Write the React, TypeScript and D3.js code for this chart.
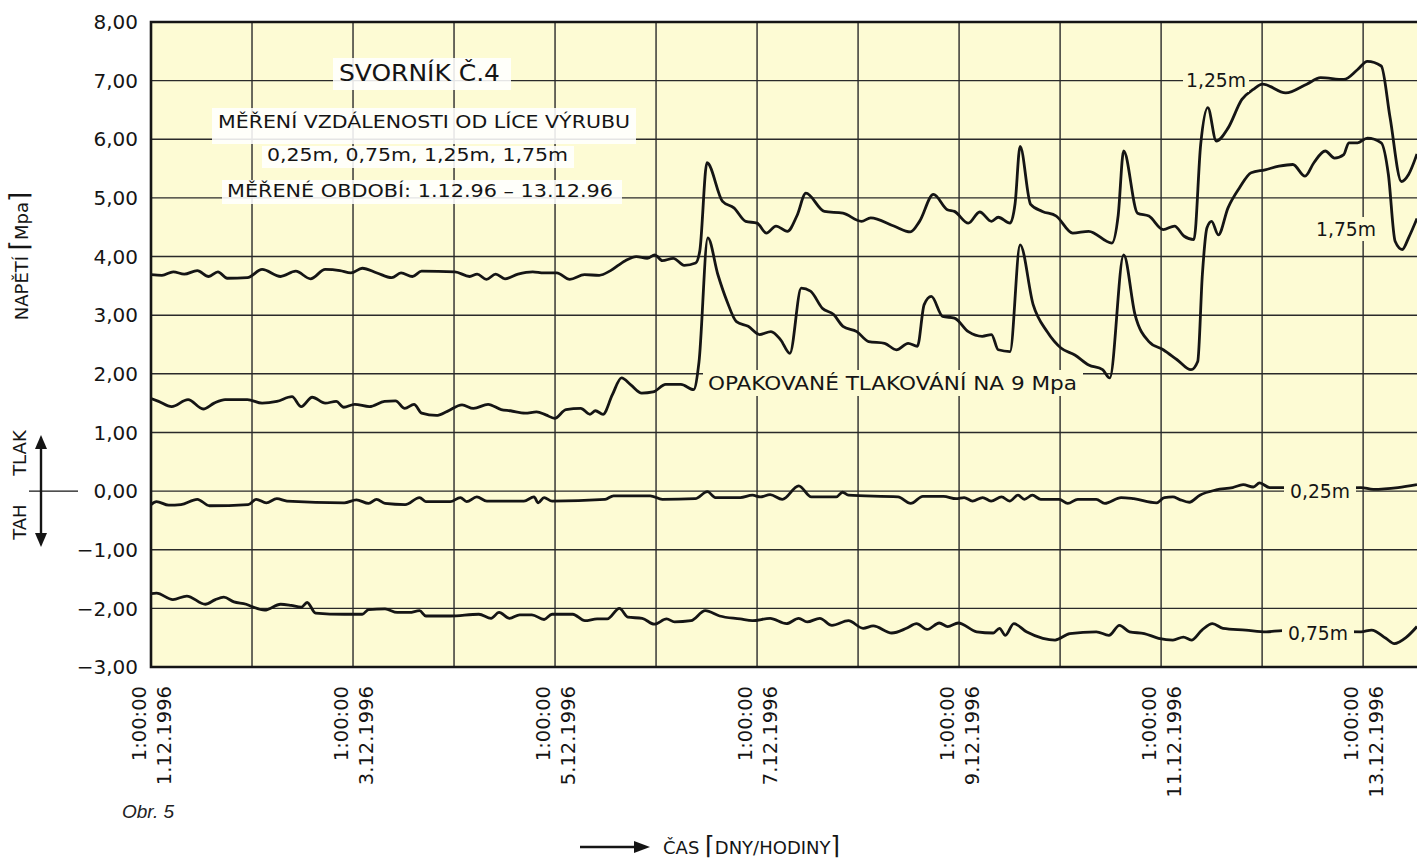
import React, { useEffect, useRef } from "react"
import * as d3 from "d3"

// time = hours after 1.12.1996 1:00:00, value = napětí [Mpa]
const series025: [number, number][] = [
  [0, -0.23], [1.3, -0.18], [4.2, -0.24], [7.1, -0.23], [11, -0.14], [13.9, -0.25],
  [23.1, -0.23], [25, -0.14], [27.4, -0.2], [29.9, -0.13], [32.3, -0.17], [45.9, -0.2],
  [48.8, -0.15], [51.7, -0.21], [53.6, -0.14], [55.6, -0.21], [60.4, -0.23], [63.8, -0.11],
  [65.3, -0.18], [71.1, -0.18], [73.5, -0.11], [75, -0.18], [77.4, -0.1], [79.8, -0.17],
  [88.6, -0.17], [91, -0.1], [92, -0.2], [93.4, -0.11], [95.3, -0.17], [107.9, -0.14],
  [109.9, -0.08], [118.6, -0.08], [121.5, -0.14], [129.3, -0.13], [132.2, -0.01], [134.1, -0.11],
  [140, -0.11], [142.9, -0.07], [144.8, -0.1], [147.1, -0.06], [150, -0.14], [153.9, 0.09],
  [156.9, -0.1], [162.8, -0.1], [164.3, -0.02], [165.7, -0.07], [177.5, -0.1], [180.5, -0.21],
  [183.4, -0.09], [188.3, -0.09], [191.3, -0.13], [193.2, -0.11], [195.2, -0.17], [197.6, -0.11],
  [199.6, -0.17], [202.1, -0.1], [204, -0.17], [206, -0.07], [207.5, -0.14], [209.4, -0.07],
  [211.4, -0.14], [215.8, -0.14], [217.8, -0.21], [220.2, -0.14], [224.6, -0.14], [226.6, -0.21],
  [230.5, -0.11], [233.5, -0.13], [238.9, -0.2], [240.8, -0.11], [242.8, -0.1], [244.3, -0.14],
  [246.7, -0.19], [249.2, -0.07], [253.1, 0.02], [257, 0.06], [259.5, 0.11], [261.9, 0.07],
  [263.4, 0.14], [265.8, 0.06], [268.8, 0.06], [277.8, 0.05], [287.5, 0.06], [290.4, 0.03],
  [296.3, 0.06], [300.8, 0.11]
]

const series075: [number, number][] = [
  [0, -1.75], [1.3, -1.74], [5.2, -1.85], [8.5, -1.79], [12.9, -1.93], [15.3, -1.85],
  [17.3, -1.81], [19.7, -1.89], [22.6, -1.93], [24, -1.97], [27, -2.03], [30.8, -1.93],
  [33.3, -1.95], [35.7, -1.98], [37.1, -1.9], [39.1, -2.08], [45.9, -2.1], [50.2, -2.1],
  [51.7, -2.02], [55.6, -2.01], [58.5, -2.07], [61.4, -2.07], [63.8, -2.04], [65.3, -2.13],
  [71.1, -2.13], [77.9, -2.1], [80.8, -2.17], [82.7, -2.07], [85.2, -2.17], [87.6, -2.11],
  [90.5, -2.11], [93.4, -2.19], [95.3, -2.1], [100.2, -2.1], [103.1, -2.21], [106, -2.18],
  [108.4, -2.18], [111.3, -2.0], [113.3, -2.15], [116.7, -2.17], [119.6, -2.27], [122.5, -2.18],
  [124.4, -2.23], [128.3, -2.21], [131.7, -2.04], [135.1, -2.13], [140, -2.18], [142.9, -2.21],
  [147.1, -2.17], [151, -2.26], [153.9, -2.17], [155.9, -2.23], [158.9, -2.17], [161.8, -2.29],
  [165.7, -2.21], [169.2, -2.34], [171.6, -2.3], [176, -2.42], [179.5, -2.34], [181.9, -2.26],
  [184.4, -2.36], [187.3, -2.25], [189.3, -2.31], [191.8, -2.25], [196.2, -2.4], [200.1, -2.42],
  [201.6, -2.34], [203, -2.46], [205, -2.26], [208, -2.4], [211.9, -2.51], [214.8, -2.54],
  [218.3, -2.43], [224.6, -2.4], [227.6, -2.46], [230.1, -2.29], [232.5, -2.4], [236, -2.43],
  [239.4, -2.51], [242.8, -2.54], [245.3, -2.49], [247.2, -2.54], [249.7, -2.37], [252.2, -2.26],
  [254.7, -2.34], [260.1, -2.37], [265, -2.4], [268.8, -2.38], [277.8, -2.39], [287.5, -2.4],
  [290, -2.37], [293.4, -2.51], [295.4, -2.6], [298.3, -2.49], [300.8, -2.31]
]

const series125: [number, number][] = [
  [0, 3.69], [2.6, 3.68], [5.3, 3.74], [7.9, 3.7], [11, 3.76], [13.7, 3.66], [15.9, 3.74],
  [18.1, 3.63], [22.9, 3.64], [26.4, 3.78], [30.8, 3.66], [34.4, 3.75], [37.9, 3.62], [41.4, 3.78],
  [44.9, 3.76], [47.5, 3.72], [50.2, 3.8], [53.7, 3.72], [57.2, 3.64], [59.4, 3.72], [62.1, 3.66],
  [64.3, 3.75], [72.2, 3.74], [75.7, 3.66], [77.5, 3.7], [79.7, 3.61], [81.9, 3.7], [84.1, 3.62],
  [87.2, 3.7], [90.7, 3.74], [93.3, 3.72], [96.4, 3.72], [99.5, 3.61], [103, 3.69], [106.5, 3.68],
  [109.2, 3.76], [112.7, 3.93], [115.3, 4.0], [117.9, 3.97], [119.7, 4.03], [121.5, 3.93],
  [124.1, 3.97], [126.7, 3.85], [129.4, 3.89], [130.4, 4.1], [132.1, 5.6], [135.8, 4.94],
  [138.5, 4.83], [141.3, 4.6], [144, 4.57], [146.2, 4.4], [148.5, 4.52], [151.2, 4.43],
  [153.5, 4.7], [155.6, 5.08], [160, 4.77], [164.4, 4.74], [168.8, 4.6], [171, 4.66],
  [176.5, 4.52], [180.4, 4.42], [182.6, 4.6], [185.9, 5.06], [189.2, 4.8], [190.9, 4.77],
  [194.2, 4.57], [196.9, 4.76], [199.7, 4.6], [201.3, 4.67], [204.1, 4.57], [205.3, 4.9],
  [206.5, 5.88], [209, 4.89], [211.8, 4.77], [215.1, 4.69], [219, 4.4], [222.8, 4.43],
  [228.3, 4.23], [229.8, 4.7], [231.1, 5.8], [234.4, 4.74], [237.1, 4.69], [240.5, 4.46],
  [243.2, 4.52], [245.4, 4.35], [247.8, 4.29], [249.4, 5.91], [251.1, 6.54], [253.1, 5.97],
  [255.9, 6.19], [259.2, 6.68], [261.9, 6.85], [264.1, 6.94], [269.6, 6.79], [274.6, 6.94],
  [277.9, 7.05], [283.4, 7.02], [286.7, 7.19], [289, 7.33], [292.3, 7.25], [294.4, 6.37],
  [297.1, 5.28], [298.8, 5.4], [300.8, 5.75]
]

const series175: [number, number][] = [
  [0, 1.58], [1.8, 1.53], [4.9, 1.44], [8.8, 1.56], [12.4, 1.4], [15, 1.5], [17.6, 1.56],
  [22.9, 1.56], [26.4, 1.5], [29.9, 1.53], [33.5, 1.61], [35.7, 1.44], [38.3, 1.6], [41.4, 1.5],
  [44, 1.53], [45.8, 1.43], [48.4, 1.48], [51.9, 1.44], [55.5, 1.53], [58.1, 1.54], [60.3, 1.41],
  [62.5, 1.48], [64.3, 1.33], [67.8, 1.29], [70.4, 1.36], [73.9, 1.47], [76.6, 1.41], [80.1, 1.48],
  [83.2, 1.39], [85.4, 1.37], [88.9, 1.33], [91.6, 1.35], [93.8, 1.3], [95.9, 1.24], [98.6, 1.39],
  [102.1, 1.41], [104.3, 1.31], [105.6, 1.37], [107.4, 1.31], [109.6, 1.64], [111.8, 1.93],
  [114, 1.81], [116.6, 1.67], [119.3, 1.69], [122.3, 1.82], [125.9, 1.82], [128.9, 1.73],
  [130.2, 2.2], [132.3, 4.32], [134.7, 3.69], [136.9, 3.23], [139.1, 2.89], [141.9, 2.81],
  [144.6, 2.67], [147.3, 2.72], [149.6, 2.58], [151.8, 2.35], [154.5, 3.46], [156.7, 3.41],
  [159.5, 3.12], [162.2, 3.01], [164.4, 2.81], [167.7, 2.72], [170.5, 2.55], [174.3, 2.52],
  [177.1, 2.41], [179.9, 2.52], [182.1, 2.47], [183.7, 3.18], [185.4, 3.32], [188.1, 2.98],
  [190.9, 2.95], [194.2, 2.72], [197.5, 2.64], [199.7, 2.67], [201.3, 2.41], [204.1, 2.38],
  [206.5, 4.2], [209.6, 3.18], [212.9, 2.72], [216.2, 2.44], [219.5, 2.32], [222.8, 2.15],
  [226.1, 2.07], [227.8, 1.93], [231.1, 4.03], [233.8, 3.01], [237.1, 2.55], [240.5, 2.41],
  [243.8, 2.24], [247.1, 2.07], [248.7, 2.21], [249.8, 3.69], [250.9, 4.49], [252, 4.6],
  [253.6, 4.37], [255.9, 4.83], [258.6, 5.17], [261.4, 5.43], [264.7, 5.48], [268, 5.54],
  [271.3, 5.57], [274.2, 5.37], [276.3, 5.6], [279, 5.8], [281.2, 5.68], [283.4, 5.74],
  [284.6, 5.94], [286.7, 5.94], [289, 6.02], [292.3, 5.94], [294, 5.4], [295.6, 4.26],
  [297.3, 4.12], [298.8, 4.32], [300.8, 4.65]
]

const yTicks = [8, 7, 6, 5, 4, 3, 2, 1, 0, -1, -2, -3]
const gridDays = [1, 2, 3, 4, 5, 6, 7, 8, 9, 10, 11, 12, 13]
const labelDays = [1, 3, 5, 7, 9, 11, 13]
const infoLines = [
  "MĚŘENÍ VZDÁLENOSTI OD LÍCE VÝRUBU",
  "0,25m, 0,75m, 1,25m, 1,75m",
  "MĚŘENÉ OBDOBÍ: 1.12.96 – 13.12.96"
]

const width = 1417
const height = 860
const plot = { left: 151, right: 1417, top: 22, bottom: 667 }
const paper = "#fdfbd4"
const ink = "#151515"
const font = "DejaVu Sans"

const start = new Date(1996, 11, 1, 1, 0, 0)
const atHour = (h: number) => new Date(start.getTime() + h * 3600 * 1000)

export default function App() {
  const ref = useRef(null)

  useEffect(() => {
    const svg = d3.select(ref.current)
    svg.selectAll("*").remove()

    const x = d3
      .scaleTime()
      .domain([start, atHour(300.8)])
      .range([plot.left, plot.right])
    const y = d3.scaleLinear().domain([-3, 8]).range([plot.bottom, plot.top])

    svg
      .append("rect")
      .attr("x", plot.left)
      .attr("y", plot.top)
      .attr("width", plot.right - plot.left)
      .attr("height", plot.bottom - plot.top)
      .attr("fill", paper)

    // grid
    const grid = svg.append("g").attr("stroke", "#2a2a2a").attr("stroke-width", 1.4)
    grid
      .selectAll("line.h")
      .data(yTicks)
      .enter()
      .append("line")
      .attr("x1", plot.left)
      .attr("x2", plot.right)
      .attr("y1", d => y(d))
      .attr("y2", d => y(d))
    grid
      .selectAll("line.v")
      .data(gridDays)
      .enter()
      .append("line")
      .attr("x1", d => x(new Date(1996, 11, d, 1)))
      .attr("x2", d => x(new Date(1996, 11, d, 1)))
      .attr("y1", plot.top)
      .attr("y2", plot.bottom)

    // curves
    const line = d3
      .line<[number, number]>()
      .x(d => x(atHour(d[0])))
      .y(d => y(d[1]))
      .curve(d3.curveMonotoneX)

    const curves = svg.append("g")
    ;[series025, series075, series125, series175].forEach(s => {
      curves
        .append("path")
        .attr("d", line(s))
        .attr("fill", "none")
        .attr("stroke", ink)
        .attr("stroke-width", 2.8)
        .attr("stroke-linejoin", "round")
    })

    // frame
    svg
      .append("path")
      .attr("d", `M${plot.right},${plot.top}H${plot.left}V${plot.bottom}H${plot.right}`)
      .attr("fill", "none")
      .attr("stroke", ink)
      .attr("stroke-width", 2.6)

    // y tick labels
    const fmt = (v: number) => d3.format(".2f")(v).replace(".", ",")
    svg
      .append("g")
      .selectAll("text")
      .data(yTicks)
      .enter()
      .append("text")
      .attr("x", 138)
      .attr("y", d => y(d))
      .attr("dy", "0.36em")
      .attr("text-anchor", "end")
      .attr("font-family", font)
      .attr("font-size", 20)
      .attr("fill", ink)
      .text(d => fmt(d))

    // x tick labels
    const timeFmt = d3.timeFormat("%-H:%M:%S")
    const dateFmt = d3.timeFormat("%-d.%-m.%Y")
    const xl = svg
      .append("g")
      .selectAll("g")
      .data(labelDays)
      .enter()
      .append("g")
      .attr("transform", d => `translate(${x(new Date(1996, 11, d, 1))},686) rotate(-90)`)
    xl.append("text")
      .attr("y", -12)
      .attr("dy", "0.36em")
      .attr("text-anchor", "end")
      .attr("font-family", font)
      .attr("font-size", 19.5)
      .attr("fill", ink)
      .text(d => timeFmt(new Date(1996, 11, d, 1)))
    xl.append("text")
      .attr("y", 13)
      .attr("dy", "0.36em")
      .attr("text-anchor", "end")
      .attr("font-family", font)
      .attr("font-size", 19.5)
      .attr("fill", ink)
      .text(d => dateFmt(new Date(1996, 11, d, 1)))

    // info block
    const info = svg.append("g").attr("font-family", font).attr("fill", ink)
    info
      .append("rect")
      .attr("x", 333)
      .attr("y", 58)
      .attr("width", 178)
      .attr("height", 32)
      .attr("fill", "#ffffff")
      .attr("fill-opacity", 0.88)
    info
      .append("text")
      .attr("x", 339)
      .attr("y", 81)
      .attr("font-size", 23)
      .attr("textLength", 161)
      .attr("lengthAdjust", "spacingAndGlyphs")
      .text("SVORNÍK Č.4")

    const infoBoxes = [
      { x: 212, y: 108, w: 424, h: 36, tx: 218, ty: 128, tl: 412 },
      { x: 262, y: 146, w: 312, h: 22, tx: 267, ty: 161, tl: 301 },
      { x: 222, y: 180, w: 400, h: 24, tx: 227, ty: 197, tl: 386 }
    ]
    infoBoxes.forEach((b, i) => {
      info
        .append("rect")
        .attr("x", b.x)
        .attr("y", b.y)
        .attr("width", b.w)
        .attr("height", b.h)
        .attr("fill", "#ffffff")
        .attr("fill-opacity", 0.88)
      info
        .append("text")
        .attr("x", b.tx)
        .attr("y", b.ty)
        .attr("font-size", 18.5)
        .attr("textLength", b.tl)
        .attr("lengthAdjust", "spacingAndGlyphs")
        .text(infoLines[i])
    })

    // series labels and note
    const labels = [
      { text: "1,25m", cx: 1216, cy: 80, w: 66 },
      { text: "1,75m", cx: 1346, cy: 229, w: 70 },
      { text: "0,25m", cx: 1320, cy: y(0), w: 72 },
      { text: "0,75m", cx: 1318, cy: 633, w: 72 }
    ]
    const lab = svg.append("g").attr("font-family", font).attr("fill", ink)
    labels.forEach(l => {
      lab
        .append("rect")
        .attr("x", l.cx - l.w / 2)
        .attr("y", l.cy - 12)
        .attr("width", l.w)
        .attr("height", 24)
        .attr("fill", paper)
      lab
        .append("text")
        .attr("x", l.cx)
        .attr("y", l.cy)
        .attr("dy", "0.36em")
        .attr("text-anchor", "middle")
        .attr("font-size", 19)
        .attr("textLength", 60)
        .attr("lengthAdjust", "spacingAndGlyphs")
        .text(l.text)
    })
    lab
      .append("rect")
      .attr("x", 703)
      .attr("y", 370)
      .attr("width", 380)
      .attr("height", 26)
      .attr("fill", paper)
    lab
      .append("text")
      .attr("x", 708)
      .attr("y", 390)
      .attr("font-size", 19.5)
      .attr("textLength", 369)
      .attr("lengthAdjust", "spacingAndGlyphs")
      .text("OPAKOVANÉ TLAKOVÁNÍ NA 9 Mpa")

    // y axis title
    const yt = svg
      .append("text")
      .attr("transform", "translate(22,256) rotate(-90)")
      .attr("text-anchor", "middle")
      .attr("dy", "0.36em")
      .attr("font-family", font)
      .attr("font-size", 18)
      .attr("fill", ink)
    yt.append("tspan").text("NAPĚTÍ ")
    yt.append("tspan").attr("font-size", 26).text("⌈")
    yt.append("tspan").text("Mpa")
    yt.append("tspan").attr("font-size", 26).text("⌉")

    // TAH / TLAK
    const y0 = y(0)
    const tt = svg.append("g").attr("fill", ink).attr("stroke", ink)
    tt.append("line")
      .attr("x1", 29)
      .attr("x2", 78)
      .attr("y1", y0)
      .attr("y2", y0)
      .attr("stroke-width", 1.3)
    tt.append("line")
      .attr("x1", 41)
      .attr("x2", 41)
      .attr("y1", y0 - 44)
      .attr("y2", y0 + 44)
      .attr("stroke-width", 2.4)
    tt.append("path")
      .attr("d", `M35,${y0 - 42}L41,${y0 - 56}L47,${y0 - 42}Z`)
      .attr("stroke", "none")
    tt.append("path")
      .attr("d", `M35,${y0 + 42}L41,${y0 + 56}L47,${y0 + 42}Z`)
      .attr("stroke", "none")
    const side = svg.append("g").attr("font-family", font).attr("font-size", 18).attr("fill", ink)
    side
      .append("text")
      .attr("transform", `translate(20,${y0 - 38}) rotate(-90)`)
      .attr("text-anchor", "middle")
      .attr("dy", "0.36em")
      .text("TLAK")
    side
      .append("text")
      .attr("transform", `translate(20,${y0 + 31}) rotate(-90)`)
      .attr("text-anchor", "middle")
      .attr("dy", "0.36em")
      .text("TAH")

    // x axis title
    svg
      .append("line")
      .attr("x1", 580)
      .attr("x2", 636)
      .attr("y1", 847)
      .attr("y2", 847)
      .attr("stroke", ink)
      .attr("stroke-width", 2.4)
    svg.append("path").attr("d", "M634,841L650,847L634,853Z").attr("fill", ink)
    const xt = svg
      .append("text")
      .attr("x", 663)
      .attr("y", 854)
      .attr("font-family", font)
      .attr("font-size", 18)
      .attr("fill", ink)
    xt.append("tspan").text("ČAS ")
    xt.append("tspan").attr("font-size", 25).text("⌈")
    xt.append("tspan").text("DNY/HODINY")
    xt.append("tspan").attr("font-size", 25).text("⌉")

    svg
      .append("text")
      .attr("x", 122)
      .attr("y", 818)
      .attr("font-family", "Liberation Sans")
      .attr("font-style", "italic")
      .attr("font-size", 19)
      .attr("fill", "#222")
      .text("Obr. 5")
  }, [])

  return (
    <div style={{ position: "absolute", left: 0, top: 0, background: "white" }}>
      <svg ref={ref} width={width} height={height} style={{ display: "block" }}></svg>
    </div>
  )
}
